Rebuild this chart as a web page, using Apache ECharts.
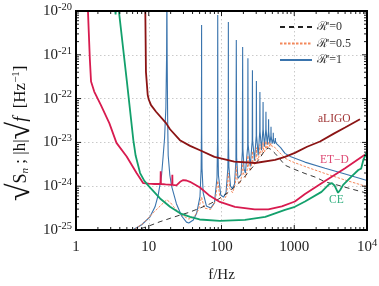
<!DOCTYPE html>
<html><head><meta charset="utf-8">
<script src="https://cdn.jsdelivr.net/npm/echarts@6/dist/echarts.min.js"></script>
<style>html,body{margin:0;padding:0;background:#fff}#c{width:379px;height:286px}</style>
</head><body><div id="c"></div>
<script>
// Values: frequency (Hz) and log10 of amplitude.
const xTicks = [1, 10, 100, 1000, 10000];
const yTickExps = [-25, -24, -23, -22, -21, -20];
const Y_REF = -25; // plotting unit 1e-25 (labels show the true powers of ten)

const aligoF = [8.8, 8.97, 9.15, 9.68, 10, 10.75, 12.6, 17.3, 19.6, 26.8, 37, 50.6, 80, 150, 290, 545, 746, 1020, 1500, 2260, 3500, 5000, 8000];
const aligoExp = [-19.3, -20.0, -21.39, -21.92, -22.02, -22.15, -22.3, -22.56, -22.7, -22.95, -23.08, -23.18, -23.33, -23.44, -23.47, -23.4, -23.33, -23.24, -23.1, -22.98, -22.8, -22.66, -22.47];

const etdF = [1.3, 1.46, 1.5, 1.55, 1.61, 1.78, 2.2, 2.87, 3.6, 4.97, 6.8, 8.4, 10, 12, 14.5, 14.6, 14.7, 17, 21.0, 21.1, 21.2, 24, 27, 29.8, 33, 36.9, 50.6, 69, 95, 153, 286, 440, 675, 1020, 1405, 2650, 5000, 10000];
const etdExp = [-19.3, -20.0, -20.5, -21.1, -21.61, -21.84, -22.15, -22.56, -23.01, -23.32, -23.7, -23.93, -23.94, -23.95, -23.95, -23.66, -23.95, -23.96, -23.97, -23.74, -23.97, -23.98, -23.9, -23.86, -23.87, -23.9, -24.03, -24.22, -24.36, -24.47, -24.53, -24.53, -24.46, -24.35, -24.18, -23.88, -23.59, -23.25];

const ceF = [3.3, 3.5, 3.62, 3.8, 3.94, 5.0, 6.14, 6.6, 7.6, 8.7, 10, 14.3, 19.6, 27, 37, 50, 95, 210, 400, 746, 1020, 1405, 2370, 3000, 3300, 3600, 4000, 4300, 4700, 6100, 7600, 8000, 8300, 8900, 10000];
const ceExp = [-19.6, -20.08, -19.7, -19.8, -20.09, -21.6, -22.95, -23.3, -23.7, -23.88, -24.0, -24.28, -24.47, -24.62, -24.7, -24.76, -24.79, -24.77, -24.7, -24.54, -24.47, -24.35, -24.13, -23.96, -23.93, -23.99, -24.15, -24.08, -23.97, -23.78, -23.63, -23.66, -23.6, -23.4, -23.21];

const r0F = [6, 8.4, 10, 14.3, 20, 26.8, 35.5, 50.6, 70, 90, 120, 153, 200, 260, 330, 398, 440, 480, 545, 650, 746, 923, 1405, 2000, 2650, 3850, 6000, 10000];
const r0Exp = [-25.05, -24.95, -24.91, -24.81, -24.73, -24.66, -24.6, -24.5, -24.4, -24.3, -24.16, -24.01, -23.82, -23.59, -23.38, -23.17, -23.13, -23.16, -23.25, -23.4, -23.52, -23.59, -23.71, -23.8, -23.9, -23.97, -24.06, -24.16];

const r05F = [6.0, 6.8, 8.4, 11.5, 15, 17.7, 20, 21.8, 25, 29.8, 35.5, 42, 48, 53.25, 58, 71, 82, 88.75, 95, 106.5, 118, 124.25, 130, 142, 155, 159.75, 164, 177.5, 191, 195.25, 199.5, 213, 227, 230.75, 234.5, 248.5, 262.5, 266.25, 270, 284, 298, 301.75, 305.5, 319.5, 333.5, 337.25, 341, 355, 369, 372.75, 376.5, 390.5, 404.5, 408.25, 412, 426, 443.75, 461.5, 479.25, 497, 530, 600, 746, 900, 1400, 2650, 5000, 10000];
const r05Exp = [-25.05, -24.95, -24.85, -24.61, -24.42, -24.31, -24.38, -24.46, -24.58, -24.68, -24.75, -24.7, -24.55, -24.25, -24.5, -24.53, -24.35, -23.88, -24.25, -24.33, -24.2, -23.7, -24.05, -24.15, -23.95, -23.55, -23.85, -23.95, -23.75, -23.4, -23.7, -23.8, -23.6, -23.3, -23.55, -23.65, -23.45, -23.2, -23.45, -23.5, -23.35, -23.12, -23.35, -23.4, -23.25, -23.05, -23.25, -23.3, -23.15, -23.0, -23.15, -23.22, -23.1, -22.97, -23.1, -23.15, -23.0, -23.1, -23.02, -23.1, -23.1, -23.2, -23.36, -23.43, -23.55, -23.71, -23.86, -24.01];

const r1F = [6.0, 8, 10.4, 12.2, 13.5, 15, 15.8, 16.5, 17.2, 17.6, 17.75, 17.9, 18.2, 18.5, 19.5, 20.6, 24, 28.3, 33, 35.5, 41, 45.5, 50.6, 52.5, 53.0, 53.25, 53.5, 54.0, 56, 62, 71, 80, 86.75, 88.2, 88.75, 89.3, 90.75, 97.6, 106.5, 115.4, 122.25, 123.8, 124.25, 124.7, 126.25, 133, 142, 151, 158, 159.75, 161.5, 168, 177.5, 186, 193.5, 195.25, 197, 204, 213, 229, 230.75, 232.5, 248.5, 264.5, 266.25, 268, 284, 300, 301.75, 303.5, 319.5, 335.5, 337.25, 339, 355, 371, 372.75, 374.5, 390.5, 406.5, 408.25, 410, 426, 442, 443.75, 445.5, 461.5, 477.5, 479.25, 481, 497, 513, 514.75, 516.5, 532.5, 548.5, 550.25, 552, 570, 650, 746, 900, 1400, 2650, 5000, 10000];
const r1Exp = [-25.0, -24.88, -24.7, -24.47, -24.2, -23.75, -23.3, -22.9, -22.2, -21.0, -19.3, -21.0, -22.5, -23.3, -23.75, -24.0, -24.4, -24.68, -24.82, -24.84, -24.77, -24.62, -24.24, -23.6, -22.8, -20.32, -22.8, -23.6, -24.15, -24.45, -24.5, -24.38, -23.8, -23.0, -20.09, -23.0, -23.75, -24.2, -24.25, -24.15, -23.6, -22.9, -20.25, -22.9, -23.55, -24.0, -24.06, -23.95, -23.4, -20.66, -23.35, -23.82, -23.86, -23.73, -23.2, -20.82, -23.15, -23.6, -23.7, -23.1, -21.08, -23.05, -23.55, -22.95, -21.35, -22.95, -23.42, -22.85, -21.6, -22.85, -23.3, -22.75, -21.85, -22.75, -23.18, -22.7, -22.08, -22.7, -23.1, -22.7, -22.3, -22.7, -23.05, -22.75, -22.47, -22.75, -23.03, -22.85, -22.64, -22.85, -23.03, -22.92, -22.78, -22.92, -23.03, -22.97, -22.9, -22.97, -23.03, -23.12, -23.25, -23.33, -23.45, -23.59, -23.72, -23.87];

const names = ["ℛ'=0", "ℛ'=0.5", "ℛ'=1"];
const curveLabels = ['aLIGO', 'ET\u2212D', 'CE'];

// convert read log10 values into plotting units of 10^Y_REF
const pts = (f, e) => f.map((x, i) => [x, Math.pow(10, e[i] - Y_REF)]);
const yMin = Math.pow(10, yTickExps[0] - Y_REF), yMax = Math.pow(10, yTickExps[yTickExps.length - 1] - Y_REF);

// Frame and tick decorations: [x, y, side, length]; sides 0 bottom,1 top,2 left,3 right,4-7 frame
const deco = [];
for (let s = 4; s < 8; s++) deco.push([10, 1000, s, 0]);
for (let d = 1; d < 10000; d *= 10) for (let k = 1; k <= 9; k++) {
  const v = k * d; if (v === 1) continue;
  const len = k === 1 ? 5 : 3;
  deco.push([v, 1000, 0, len]); deco.push([v, 1000, 1, len]);
}
for (let d = 1; d < 100000; d *= 10) for (let k = 1; k <= 9; k++) {
  const v = k * d; if (v === 1) continue;
  const len = k === 1 ? 5 : 3;
  deco.push([10, v, 2, len]); deco.push([10, v, 3, len]);
}

function renderDeco(params, api) {
  const cs = params.coordSys;
  const side = api.value(2), len = api.value(3);
  const L = cs.x, R = cs.x + cs.width, T = cs.y, B = cs.y + cs.height;
  let shape;
  if (side === 4) shape = {x1: L - 1, y1: B, x2: R + 1, y2: B};
  else if (side === 5) shape = {x1: L - 1, y1: T, x2: R + 1, y2: T};
  else if (side === 6) shape = {x1: L, y1: T, x2: L, y2: B};
  else if (side === 7) shape = {x1: R, y1: T, x2: R, y2: B};
  else if (side === 0 || side === 1) {
    const x = api.coord([api.value(0), 1000])[0];
    shape = side === 0 ? {x1: x, y1: B, x2: x, y2: B - len} : {x1: x, y1: T, x2: x, y2: T + len};
  } else {
    const y = api.coord([10, api.value(1)])[1];
    shape = side === 2 ? {x1: L, y1: y, x2: L + len, y2: y} : {x1: R, y1: y, x2: R - len, y2: y};
  }
  return {type: 'line', shape: shape, style: {stroke: '#000', lineWidth: side >= 4 ? 2 : 0.9}};
}

const FONT = 'Liberation Serif';
const chart = echarts.init(document.getElementById('c'), null, {renderer: 'canvas'});

const expOf = v => Math.round(Math.log10(v));
const xFmt = v => { const e = expOf(v); return e >= 4 ? '{b|10}{s|' + e + '}' : '{b|' + Math.round(v) + '}'; };
const yFmt = v => '{b|10}{s|' + (expOf(v) + Y_REF) + '}';
const mkRich = () => ({
  b: {fontFamily: FONT, fontSize: 15, lineHeight: 19, color: '#222'},
  s: {fontFamily: FONT, fontSize: 10.5, lineHeight: 11, verticalAlign: 'top', color: '#222'}
});
const mkSplit = () => ({show: true, lineStyle: {color: '#bdbdbd', width: 0.8, type: [1.5, 2.5]}});

const yTitleRich = {
  r: {fontFamily: FONT, fontSize: 32, lineHeight: 36, fill: '#111'},
  s: {fontFamily: FONT, fontSize: 18, fill: '#111'},
  n: {fontFamily: FONT, fontSize: 11, fontStyle: 'italic', padding: [9, 0, 0, 0], fill: '#111'},
  t: {fontFamily: FONT, fontSize: 17, fill: '#111'},
  f: {fontFamily: FONT, fontSize: 18, fontStyle: 'italic', fill: '#111'},
  p: {fontFamily: FONT, fontSize: 11, padding: [0, 0, 9, 0], fill: '#111'}
};

const option = {
  animation: false,
  backgroundColor: '#fff',
  grid: {left: 76, right: 12, top: 11, bottom: 56, containLabel: false, outerBoundsMode: 'none'},
  legend: {
    data: names, orient: 'vertical', left: 274, top: 15, itemWidth: 32, itemHeight: 10, itemGap: 2.5,
    textStyle: {fontFamily: FONT, fontSize: 12, lineHeight: 14, color: '#333'},
    itemStyle: {opacity: 0, borderWidth: 0}
  },
  xAxis: {
    type: 'log', logBase: 10, min: xTicks[0], max: xTicks[xTicks.length - 1],
    name: 'f/Hz', nameLocation: 'middle', nameGap: 38,
    nameTextStyle: {fontFamily: FONT, fontSize: 15, color: '#222'},
    axisLine: {show: false}, axisTick: {show: false},
    axisLabel: {formatter: xFmt, rich: mkRich(), margin: 8},
    splitLine: mkSplit()
  },
  yAxis: {
    type: 'log', logBase: 10, min: yMin, max: yMax,
    axisLine: {show: false}, axisTick: {show: false},
    axisLabel: {formatter: yFmt, rich: mkRich(), margin: 4},
    splitLine: mkSplit()
  },
  series: [
    {name: names[2], type: 'line', data: pts(r1F, r1Exp), symbol: 'none', clip: true,
     lineStyle: {color: '#3a74ad', width: 1.1}, itemStyle: {color: '#3a74ad'}, z: 2},
    {name: names[1], type: 'line', data: pts(r05F, r05Exp), symbol: 'none', clip: true,
     lineStyle: {color: '#f4875a', width: 1, type: [2.5, 1.5]}, itemStyle: {color: '#f4875a'}, z: 3},
    {name: names[0], type: 'line', data: pts(r0F, r0Exp), symbol: 'none', clip: true,
     lineStyle: {color: '#222', width: 0.9, type: [5, 4]}, itemStyle: {color: '#222'}, z: 4},
    {name: 'aLIGO', type: 'line', data: pts(aligoF, aligoExp), symbol: 'none', clip: true,
     lineStyle: {color: '#8b1414', width: 1.8}, z: 5},
    {name: 'ET-D', type: 'line', data: pts(etdF, etdExp), symbol: 'none', clip: true,
     lineStyle: {color: '#d81b4f', width: 1.8}, z: 5},
    {name: 'CE', type: 'line', data: pts(ceF, ceExp), symbol: 'none', clip: true,
     lineStyle: {color: '#13a06c', width: 1.8}, z: 5},
    {type: 'custom', renderItem: renderDeco, data: deco, encode: {x: 0, y: 1}, z: 10}
  ],
  graphic: [
    {type: 'text', x: 21, y: 201, rotation: Math.PI / 2,
     style: {text: '{r|√}{s|S}{n|n}{t| ; |h|}{r|√}{f|f}{t|  [Hz}{p|\u22121}{t|]}', rich: yTitleRich, align: 'left', verticalAlign: 'middle', fill: '#111'}},
    {type: 'text', left: 318, top: 113, style: {text: curveLabels[0], fontFamily: FONT, fontSize: 11.5, fill: '#a03535'}},
    {type: 'text', left: 320, top: 154, style: {text: curveLabels[1], fontFamily: FONT, fontSize: 11.5, fill: '#de4a74'}},
    {type: 'text', left: 329, top: 194, style: {text: curveLabels[2], fontFamily: FONT, fontSize: 11.5, fill: '#33b080'}}
  ]
};
chart.setOption(option);
</script></body></html>
